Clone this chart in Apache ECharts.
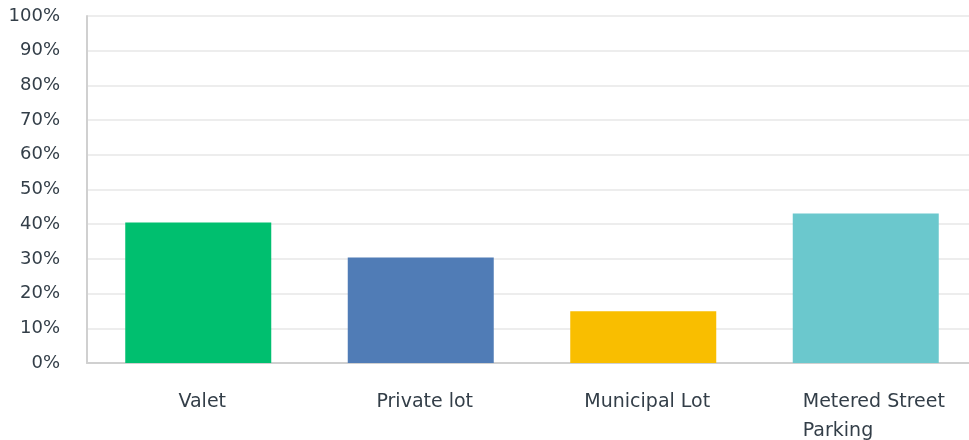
<!DOCTYPE html>
<html>
<head>
<meta charset="utf-8">
<script src="https://cdn.jsdelivr.net/npm/echarts@6/dist/echarts.min.js"></script>
<style>
  html, body { margin: 0; padding: 0; background: #fff; }
  #chart { width: 969px; height: 440px; }
</style>
</head>
<body>
<div id="chart"></div>
<script>
// answer options and share of respondents (%)
const categories = ["Valet", "Private lot", "Municipal Lot", "Metered Street Parking"];
const values = [40.5, 30.4, 14.9, 43.1];
const barColors = ["#00bf6f", "#507cb6", "#f9be00", "#6bc8cd"];

const chart = echarts.init(document.getElementById("chart"));

// long labels wrap onto two left-aligned lines, like the original
function wrapLabel(label) {
  if (label.length <= 16) return label;
  const cut = label.lastIndexOf(" ", 16);
  return "{w|" + label.slice(0, cut) + "}\n{w|" + label.slice(cut + 1) + "}";
}

chart.setOption({
  animation: false,
  grid: {
    left: 87,
    top: 16,
    width: 890,
    height: 347,
    containLabel: false,
    outerBoundsMode: "none"
  },
  xAxis: {
    type: "category",
    data: categories,
    axisLine: { lineStyle: { color: "#d0d0d0", width: 2 } },
    axisTick: { show: false },
    axisLabel: {
      interval: 0,
      color: "#333e48",
      fontFamily: "DejaVu Sans",
      fontSize: 19,
      margin: 25,
      lineHeight: 29,
      padding: [0, 0, 0, 8],
      formatter: wrapLabel,
      rich: {
        w: {
          color: "#333e48",
          fontFamily: "DejaVu Sans",
          fontSize: 19,
          lineHeight: 29,
          width: 134,
          align: "left"
        }
      }
    }
  },
  yAxis: {
    type: "value",
    min: 0,
    max: 100,
    interval: 10,
    axisLine: { show: true, lineStyle: { color: "#d0d0d0", width: 2 } },
    axisTick: { show: false },
    splitLine: { lineStyle: { color: "#ededed", width: 2 } },
    axisLabel: {
      color: "#333e48",
      fontFamily: "DejaVu Sans",
      fontSize: 18,
      margin: 27,
      formatter: "{value}%"
    }
  },
  series: [
    {
      type: "bar",
      data: values.map((v, i) => ({ value: v, itemStyle: { color: barColors[i] } })),
      barWidth: 146
    }
  ]
});
</script>
</body>
</html>
